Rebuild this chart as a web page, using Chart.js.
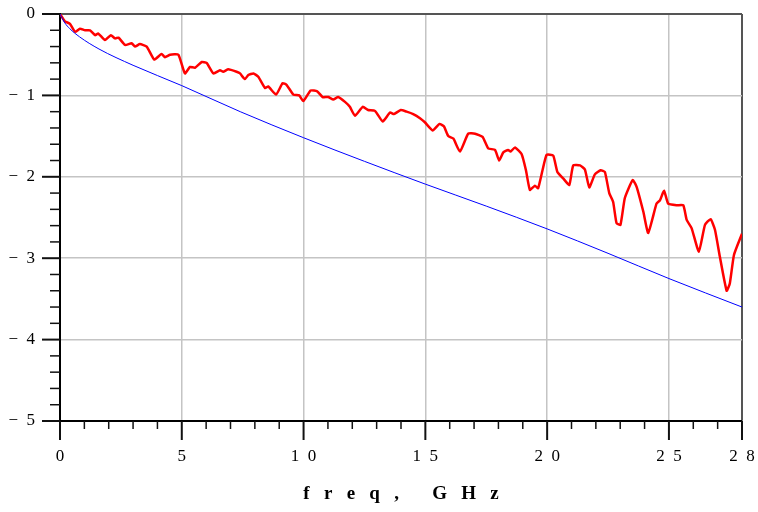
<!DOCTYPE html>
<html>
<head>
<meta charset="UTF-8">
<title>freq, GHz</title>
<script src="https://cdn.jsdelivr.net/npm/chart.js"></script>
<style>
  html, body { margin: 0; padding: 0; background: #fff; }
  #wrap { width: 758px; height: 512px; }
</style>
</head>
<body>
<div id="wrap"><canvas id="c"></canvas></div>
<script>
const redFreq = [0, 0.2, 0.41, 0.62, 0.82, 1.03, 1.23, 1.44, 1.57, 1.85, 2.09, 2.26, 2.4, 2.67, 2.94, 3.08, 3.28, 3.56, 3.87, 4.17,
  4.31, 4.52, 4.86, 5.13, 5.34, 5.54, 5.82, 6.02, 6.3, 6.57, 6.7, 6.91, 7.25, 7.39, 7.59, 7.73, 7.94, 8.14, 8.42, 8.55,
  8.87, 9.14, 9.3, 9.58, 9.82, 9.99, 10.29, 10.56, 10.78, 11.01, 11.22, 11.42, 11.7, 11.9, 12.11, 12.43, 12.65, 12.93, 13.25, 13.55,
  13.71, 13.99, 14.23, 14.5, 14.78, 14.98, 15.3, 15.58, 15.76, 15.94, 16.15, 16.42, 16.76, 17.04, 17.35, 17.58, 17.86, 18.03, 18.2, 18.4,
  18.5, 18.68, 18.95, 19.13, 19.29, 19.5, 19.63, 19.81, 19.98, 20.25, 20.42, 20.66, 20.91, 21.07, 21.35, 21.55, 21.73, 21.96, 22.2, 22.37,
  22.55, 22.71, 22.85, 23.01, 23.19, 23.51, 23.67, 23.95, 24.15, 24.49, 24.63, 24.8, 24.97, 25.32, 25.59, 25.73, 25.93, 26.23, 26.48, 26.71,
  26.89, 27.09, 27.37, 27.5, 27.67, 28];
const redLoss = [0, -0.09, -0.12, -0.22, -0.18, -0.20, -0.20, -0.26, -0.24, -0.32, -0.26, -0.30, -0.29, -0.38, -0.36, -0.40, -0.37, -0.40, -0.56, -0.49,
  -0.53, -0.50, -0.50, -0.73, -0.65, -0.66, -0.59, -0.60, -0.73, -0.69, -0.71, -0.68, -0.71, -0.73, -0.80, -0.75, -0.73, -0.77, -0.91, -0.89,
  -0.99, -0.85, -0.87, -0.99, -1.00, -1.07, -0.94, -0.95, -1.02, -1.02, -1.05, -1.02, -1.08, -1.14, -1.25, -1.14, -1.18, -1.19, -1.32, -1.21,
  -1.23, -1.18, -1.20, -1.23, -1.28, -1.33, -1.43, -1.35, -1.38, -1.50, -1.53, -1.69, -1.47, -1.47, -1.51, -1.65, -1.67, -1.80, -1.70, -1.67,
  -1.69, -1.64, -1.72, -1.92, -2.16, -2.11, -2.14, -1.92, -1.73, -1.74, -1.94, -2.02, -2.10, -1.86, -1.86, -1.91, -2.13, -1.97, -1.92, -1.94,
  -2.20, -2.31, -2.57, -2.59, -2.26, -2.04, -2.12, -2.43, -2.69, -2.33, -2.29, -2.17, -2.33, -2.35, -2.35, -2.53, -2.63, -2.92, -2.59, -2.52,
  -2.65, -2.98, -3.40, -3.31, -2.96, -2.70];

// model trace (blue)
const blueFreq = [0, 0.2, 0.4, 0.8, 1.6, 3, 5, 7.4, 10, 12.5, 15, 17.5, 20, 22.5, 25, 28];
const blueLoss = [0, -0.11, -0.18, -0.28, -0.43, -0.63, -0.88, -1.20, -1.52, -1.81, -2.09, -2.36, -2.64, -2.94, -3.25, -3.60];

const xMajor = [0, 5, 10, 15, 20, 25, 28];
const xLabels = ['0', '5', '1  0', '1  5', '2  0', '2  5', '2  8'];
const yLabels = { '0': '0', '-1': '−  1', '-2': '−  2', '-3': '−  3', '-4': '−  4', '-5': '−  5' };

const isInt = v => Math.abs(v - Math.round(v)) < 1e-6;
const isMajorX = v => xMajor.some(m => Math.abs(m - v) < 1e-6);
const clear = 'rgba(0,0,0,0)';

Chart.defaults.font.family = "'Liberation Serif', serif";
Chart.defaults.color = '#000';

// tick marks: long at labelled values, short in between
const tickMarks = {
  id: 'tickMarks',
  afterDraw(chart) {
    const { ctx, chartArea: a, scales: { x, y } } = chart;
    ctx.save();
    ctx.strokeStyle = '#111';
    x.ticks.forEach(t => {
      const px = x.getPixelForValue(t.value);
      const major = isMajorX(t.value);
      ctx.lineWidth = major ? 2 : 1.5;
      ctx.beginPath();
      ctx.moveTo(px, a.bottom);
      ctx.lineTo(px, a.bottom + (major ? 19 : 8));
      ctx.stroke();
    });
    y.ticks.forEach(t => {
      const py = y.getPixelForValue(t.value);
      const major = isInt(t.value);
      ctx.lineWidth = major ? 2 : 1.5;
      ctx.beginPath();
      ctx.moveTo(a.left, py);
      ctx.lineTo(a.left - (major ? 18 : 10), py);
      ctx.stroke();
    });
    ctx.restore();
  }
};

new Chart(document.getElementById('c'), {
  type: 'line',
  data: {
    datasets: [
      {
        data: blueFreq.map((f, i) => ({ x: f, y: blueLoss[i] })),
        borderColor: '#0000ff',
        borderWidth: 1,
        pointRadius: 0,
        cubicInterpolationMode: 'monotone'
      },
      {
        data: redFreq.map((f, i) => ({ x: f, y: redLoss[i] })),
        borderColor: '#ff0000',
        borderWidth: 2.5,
        pointRadius: 0,
        tension: 0.15
      }
    ]
  },
  options: {
    responsive: true,
    maintainAspectRatio: false,
    animation: false,
    layout: { padding: { left: 0, top: 14, right: 16, bottom: 0 } },
    plugins: { legend: { display: false }, tooltip: { enabled: false } },
    scales: {
      x: {
        type: 'linear',
        min: 0,
        max: 28,
        afterFit: s => { s.height = 91; },
        afterBuildTicks: s => {
          s.ticks = [];
          for (let v = 0; v <= 28; v++) s.ticks.push({ value: v });
        },
        ticks: {
          autoSkip: false,
          maxRotation: 0,
          padding: 0,
          font: { size: 17 },
          callback: v => {
            const i = xMajor.findIndex(m => Math.abs(m - v) < 1e-6);
            return i >= 0 ? xLabels[i] : '';
          }
        },
        grid: {
          drawTicks: true,
          tickLength: 25,
          tickColor: clear,
          color: c => {
            const v = c.tick && c.tick.value;
            if (Math.abs(v - 28) < 1e-6) return '#555';
            return (v % 5 === 0 && v !== 0) ? '#c4c4c4' : clear;
          },
          lineWidth: c => (c.tick && Math.abs(c.tick.value - 28) < 1e-6) ? 2 : 1.5
        },
        border: { display: true, color: '#000', width: 2 },
        title: {
          display: true,
          text: 'f   r   e   q   ,       G   H   z',
          font: { size: 19, weight: 'bold' },
          padding: { top: 0, bottom: 7 }
        }
      },
      y: {
        min: -5,
        max: 0,
        afterFit: s => { s.width = 60; },
        afterBuildTicks: s => {
          s.ticks = [];
          for (let k = -25; k <= 0; k++) s.ticks.push({ value: k / 5 });
        },
        ticks: {
          autoSkip: false,
          padding: 0,
          font: { size: 17 },
          callback: v => isInt(v) ? yLabels[String(Math.round(v))] : ''
        },
        grid: {
          drawTicks: true,
          tickLength: 25,
          tickColor: clear,
          color: c => {
            const v = c.tick && c.tick.value;
            if (Math.abs(v) < 1e-6) return '#555';
            return (isInt(v) && Math.round(v) !== -5) ? '#c4c4c4' : clear;
          },
          lineWidth: c => (c.tick && Math.abs(c.tick.value) < 1e-6) ? 2 : 1.5
        },
        border: { display: true, color: '#000', width: 2 }
      }
    }
  },
  plugins: [tickMarks]
});
</script>
</body>
</html>
